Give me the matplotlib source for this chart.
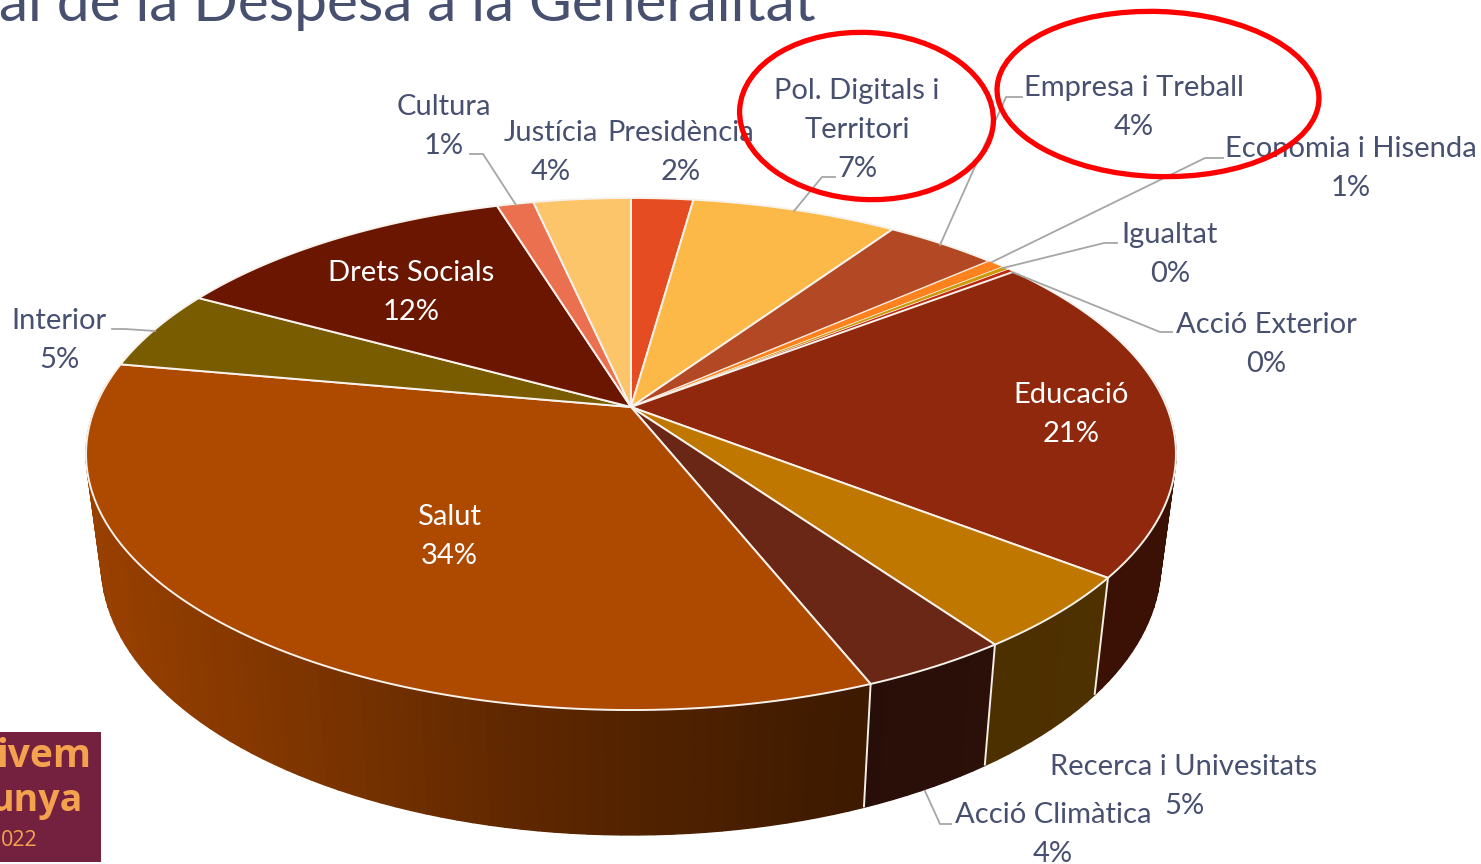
import numpy as np
import matplotlib
matplotlib.use("Agg")
import matplotlib.pyplot as plt
from matplotlib.patches import Polygon, Rectangle, Ellipse

categories = ["Presidència", "Pol. Digitals i\nTerritori", "Empresa i Treball", "Economia i Hisenda",
              "Igualtat", "Acció Exterior", "Educació", "Recerca i Univesitats", "Acció Climàtica",
              "Salut", "Interior", "Drets Socials", "Cultura", "Justícia"]
values = [2.2, 7.3, 4.0, 0.6, 0.25, 0.25, 20.9, 4.7, 3.75, 33.9, 5.1, 12.3, 1.3, 3.45]
pct_labels = ["2%", "7%", "4%", "1%", "0%", "0%", "21%", "5%", "4%", "34%", "5%", "12%", "1%", "4%"]
top_colors = ["#E64C21", "#FDB948", "#B24824", "#FF821E", "#CD9B0A", "#BE280F", "#8F280D",
              "#BF7700", "#6B2716", "#AE4900", "#795B00", "#6B1600", "#EA7050", "#FDC569"]
title_text = "al de la Despesa a la Generalitat"

# label layout: centre x, y of first line, second line
label_pos = [(681, 133, 172), (857, 91, 169), (1134, 88, 127), (1351, 149, 188), (1170, 235, 274),
             (1266, 325, 364), (1071, 395, 434), (1184, 767, 806), (1053, 815, 854), (449, 517, 556),
             (59, 321, 360), (411, 273, 312), (444, 107, 146), (551, 133, 172)]
light_labels = {"Educació", "Salut", "Drets Socials"}
leaders = {
    "Cultura": [(470, 154), (483, 154), (516, 205)],
    "Pol": [(835, 177), (822, 177), (794, 211)],
    "Empresa": [(1022, 97), (1006, 97), (940, 245)],
    "Economia": [(1223, 158), (1205, 158), (992, 262)],
    "Igualtat": [(1117, 243), (1104, 243), (1003, 268)],
    "Exterior": [(1172, 332), (1160, 332), (1012, 272)],
    "Interior": [(112, 329), (125, 329), (155, 331)],
    "Climatica": [(951, 824), (940, 824), (925, 791)],
}

W, H = 1481, 864
fig = plt.figure(figsize=(W / 100, H / 100), dpi=100, facecolor="white")
ax = fig.add_axes([0, 0, 1, 1])
ax.set_xlim(0, W)
ax.set_ylim(H, 0)
ax.axis("off")

# perspective disc
cx, cy, a, b, k = 631.0, 407.0, 535.7, 247.4, 0.1836
shrink, y_ref, y_ref_low, y_gain = 0.972, 578.0, 695.0, 1.06


def top_rim(theta):
    u, v = np.sin(theta), np.cos(theta)
    w = 1 + k * v
    return cx + a * u / w, cy - b * v / w


def low_rim(theta):
    x, y = top_rim(theta)
    return cx + shrink * (x - cx), y_ref_low + (y - y_ref) * y_gain


def shade(x):
    return np.interp(x, [100, 300, 550, 860, 900, 1175], [0.87, 0.72, 0.52, 0.35, 0.39, 0.42])


frac = np.array(values, dtype=float) / np.sum(values)
edges = np.concatenate([[0], np.cumsum(frac)]) * 2 * np.pi
wall_lo, wall_hi = np.radians(84), np.radians(276)

# side wall
for i, col in enumerate(top_colors):
    t0, t1 = max(edges[i], wall_lo), min(edges[i + 1], wall_hi)
    if t1 <= t0:
        continue
    n = max(2, int(np.degrees(t1 - t0) / 1.5) + 1)
    ts = np.linspace(t0, t1, n)
    rgb = np.array(matplotlib.colors.to_rgb(col))
    for s0, s1 in zip(ts[:-1], ts[1:]):
        xs0, ys0 = top_rim(s0)
        xs1, ys1 = top_rim(s1)
        xl0, yl0 = low_rim(s0)
        xl1, yl1 = low_rim(s1)
        c = rgb * shade((xs0 + xs1) / 2)
        ax.add_patch(Polygon([(xs0, ys0), (xs1, ys1), (xl1, yl1), (xl0, yl0)], closed=True,
                             facecolor=c, edgecolor=c, lw=1.0, zorder=2))
for e in edges:
    if np.radians(100) < e < np.radians(270):
        x0, y0 = top_rim(e)
        x1, y1 = low_rim(e)
        ax.plot([x0, x1], [y0, y1], color="#F2EEE8", lw=1.4, zorder=3, solid_capstyle="butt")

# top face
for i, col in enumerate(top_colors):
    ts = np.linspace(edges[i], edges[i + 1], max(2, int(np.degrees(edges[i + 1] - edges[i])) + 2))
    rx, ry = top_rim(ts)
    pts = [(cx, cy)] + list(zip(rx, ry))
    ax.add_patch(Polygon(pts, closed=True, facecolor=col, edgecolor="#F7F2EC",
                         lw=0.45 if frac[i] < 0.01 else 1.4, zorder=4, joinstyle="round"))

# leader lines
for path in leaders.values():
    xs, ys = zip(*path)
    ax.plot(xs, ys, color="#A6A6A6", lw=1.3, zorder=5)

# labels
fs = 21
text_dark = "#485070"
for name, pct, (x, y1, y2) in zip(categories, pct_labels, label_pos):
    col = "white" if name in light_labels else text_dark
    if "\n" in name:
        l1, l2 = name.split("\n")
        ax.text(x, y1, l1, ha="center", va="center", fontsize=fs, color=col, family="Lato", zorder=6)
        ax.text(x, (y1 + y2) / 2, l2, ha="center", va="center", fontsize=fs, color=col, family="Lato", zorder=6)
    else:
        ax.text(x, y1, name, ha="center", va="center", fontsize=fs, color=col, family="Lato", zorder=6)
    ax.text(x, y2, pct, ha="center", va="center", fontsize=fs, color=col, family="Lato", zorder=6)

# title
ax.text(-1, 21, title_text, ha="left", va="baseline", fontsize=42.2, color=text_dark, family="Lato",
        fontweight="normal", zorder=6)

# logo
ax.add_patch(Rectangle((0, 732), 101, 130, facecolor="#74213F", edgecolor="none", zorder=6))
ax.text(91, 767, "ivem", ha="right", va="baseline", fontsize=28, fontweight="bold", color="#F5A24F",
        family="Open Sans", zorder=7, clip_on=True)
ax.text(82, 811, "unya", ha="right", va="baseline", fontsize=27, fontweight="bold", color="#F5A24F",
        family="Open Sans", zorder=7, clip_on=True)
ax.text(38, 846, "022", ha="right", va="baseline", fontsize=15.5, color="#F5A24F",
        family="Open Sans", zorder=7, clip_on=True)

# highlight rings
ax.add_patch(Ellipse((866.5, 116), 254, 167, angle=3, fill=False, edgecolor="#FF0000", lw=3.8, zorder=8))
ax.add_patch(Ellipse((1158, 94), 322, 165, angle=2, fill=False, edgecolor="#FF0000", lw=3.8, zorder=8))

fig.savefig("out.png", dpi=100, facecolor="white")
